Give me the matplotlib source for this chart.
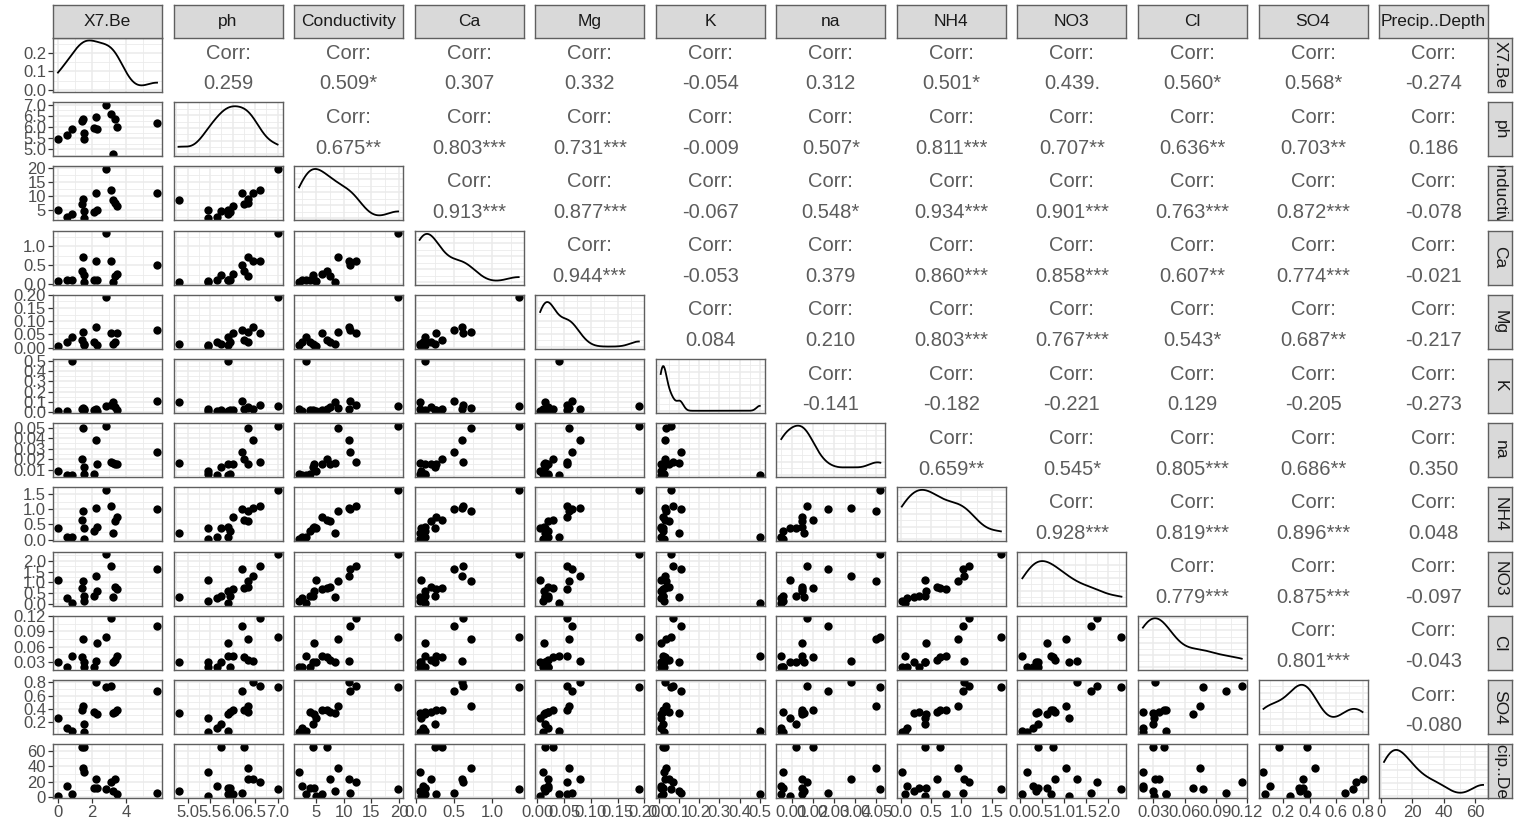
import numpy as np
import matplotlib
matplotlib.use("Agg")
import matplotlib.pyplot as plt
from matplotlib.ticker import MaxNLocator

plt.rcParams['font.family'] = ['Liberation Sans', 'DejaVu Sans']

# ---------------- data (16 samples) ----------------
var_names = ["X7.Be", "ph", "Conductivity", "Ca", "Mg", "K", "na",
             "NH4", "NO3", "Cl", "SO4", "Precip..Depth"]

x7_be = [0.0, 0.55, 0.85, 1.4, 1.45, 1.5, 1.55, 2.1, 2.25, 2.3, 2.8, 3.1, 3.25, 3.35, 3.45, 5.8]
ph = [5.45, 5.65, 5.9, 6.25, 6.35, 5.75, 5.45, 5.95, 6.45, 5.9, 7.0, 6.6, 4.8, 6.35, 6.0, 6.2]
conductivity = [5.0, 2.5, 3.3, 7.0, 9.0, 4.5, 2.0, 4.0, 11.0, 4.7, 19.8, 12.3, 8.5, 7.5, 6.2, 11.2]
ca = [0.07, 0.10, 0.12, 0.35, 0.72, 0.25, 0.05, 0.12, 0.60, 0.12, 1.35, 0.62, 0.05, 0.20, 0.27, 0.50]
mg = [0.005, 0.02, 0.04, 0.03, 0.06, 0.015, 0.01, 0.02, 0.08, 0.012, 0.19, 0.055, 0.015, 0.02, 0.055, 0.065]
k = [0.01, 0.01, 0.50, 0.03, 0.035, 0.02, 0.025, 0.02, 0.03, 0.01, 0.06, 0.07, 0.10, 0.05, 0.02, 0.11]
na = [0.009, 0.005, 0.005, 0.020, 0.050, 0.012, 0.006, 0.006, 0.038, 0.015, 0.052, 0.017, 0.016, 0.015, 0.015, 0.027]
nh4 = [0.40, 0.10, 0.08, 0.65, 0.95, 0.40, 0.02, 0.30, 1.05, 0.42, 1.65, 1.12, 0.22, 0.60, 0.75, 1.03]
no3 = [1.10, 0.30, 0.05, 0.75, 1.05, 0.40, 0.15, 0.40, 1.30, 0.60, 2.30, 1.75, 0.35, 0.80, 0.70, 1.60]
cl = [0.031, 0.020, 0.042, 0.040, 0.075, 0.030, 0.020, 0.020, 0.032, 0.068, 0.078, 0.115, 0.030, 0.035, 0.042, 0.100]
so4 = [0.25, 0.10, 0.06, 0.38, 0.44, 0.17, 0.05, 0.35, 0.80, 0.32, 0.73, 0.75, 0.33, 0.35, 0.38, 0.67]
precip_depth = [2, 14, 4, 65, 38, 65, 33, 12, 24, 12, 11, 19, 8, 23, 4, 5]

series = [x7_be, ph, conductivity, ca, mg, k, na, nh4, no3, cl, so4, precip_depth]

tick_values = [
    [0, 2, 4],
    [5.0, 5.5, 6.0, 6.5, 7.0],
    [5, 10, 15, 20],
    [0.0, 0.5, 1.0],
    [0.00, 0.05, 0.10, 0.15, 0.20],
    [0.0, 0.1, 0.2, 0.3, 0.4, 0.5],
    [0.01, 0.02, 0.03, 0.04, 0.05],
    [0.0, 0.5, 1.0, 1.5],
    [0.0, 0.5, 1.0, 1.5, 2.0],
    [0.03, 0.06, 0.09, 0.12],
    [0.2, 0.4, 0.6, 0.8],
    [0, 20, 40, 60],
]
tick_labels = [
    ["0", "2", "4"],
    ["5.0", "5.5", "6.0", "6.5", "7.0"],
    ["5", "10", "15", "20"],
    ["0.0", "0.5", "1.0"],
    ["0.00", "0.05", "0.10", "0.15", "0.20"],
    ["0.0", "0.1", "0.2", "0.3", "0.4", "0.5"],
    ["0.01", "0.02", "0.03", "0.04", "0.05"],
    ["0.0", "0.5", "1.0", "1.5"],
    ["0.0", "0.5", "1.0", "1.5", "2.0"],
    ["0.03", "0.06", "0.09", "0.12"],
    ["0.2", "0.4", "0.6", "0.8"],
    ["0", "20", "40", "60"],
]
density_ticks_row0 = [0.0, 0.1, 0.2]
density_labels_row0 = ["0.0", "0.1", "0.2"]

corr_text = [
    ["0.259", "0.509*", "0.307", "0.332", "-0.054", "0.312", "0.501*", "0.439.", "0.560*", "0.568*", "-0.274"],
    ["0.675**", "0.803***", "0.731***", "-0.009", "0.507*", "0.811***", "0.707**", "0.636**", "0.703**", "0.186"],
    ["0.913***", "0.877***", "-0.067", "0.548*", "0.934***", "0.901***", "0.763***", "0.872***", "-0.078"],
    ["0.944***", "-0.053", "0.379", "0.860***", "0.858***", "0.607**", "0.774***", "-0.021"],
    ["0.084", "0.210", "0.803***", "0.767***", "0.543*", "0.687**", "-0.217"],
    ["-0.141", "-0.182", "-0.221", "0.129", "-0.205", "-0.273"],
    ["0.659**", "0.545*", "0.805***", "0.686**", "0.350"],
    ["0.928***", "0.819***", "0.896***", "0.048"],
    ["0.779***", "0.875***", "-0.097"],
    ["0.801***", "-0.043"],
    ["-0.080"],
]

# ---------------- layout ----------------
W, H = 1519, 823
fig = plt.figure(figsize=(W / 100, H / 100), dpi=100)
fig.patch.set_facecolor("white")

n = len(var_names)
left0, col_pitch, pw = 53, 120.55, 109
top0, row_pitch, ph_ = 38, 64.2, 54
strip_h = 33
rstrip_w = 24

BORDER = "#5f5f5f"
GRID = "#ebebeb"
TICKC = "#4d4d4d"
CORRC = "#5c5c5c"


def rect(l, t, w, h):
    return [l / W, 1 - (t + h) / H, w / W, h / H]


def lims(v):
    v = np.asarray(v, float)
    lo, hi = v.min(), v.max()
    d = hi - lo
    return lo - 0.05 * d, hi + 0.05 * d


def minor_of(major, lo, hi):
    major = np.asarray(major, float)
    step = major[1] - major[0]
    cand = np.concatenate([major - step / 2, [major[-1] + step / 2]])
    return [c for c in cand if lo <= c <= hi]


def kde(v, grid):
    v = np.asarray(v, float)
    nobs = len(v)
    sd = v.std(ddof=1)
    q75, q25 = np.percentile(v, [75, 25])
    bw = 0.9 * min(sd, (q75 - q25) / 1.34) * nobs ** (-0.2)
    z = (grid[:, None] - v[None, :]) / bw
    return np.exp(-0.5 * z ** 2).sum(1) / (nobs * bw * np.sqrt(2 * np.pi))


def style_panel(ax, xt, yt, xlim, ylim):
    ax.set_xlim(*xlim)
    ax.set_ylim(*ylim)
    for x in minor_of(xt, *xlim):
        ax.axvline(x, color=GRID, lw=0.6, zorder=0)
    for y in minor_of(yt, *ylim):
        ax.axhline(y, color=GRID, lw=0.6, zorder=0)
    for x in xt:
        if xlim[0] <= x <= xlim[1]:
            ax.axvline(x, color=GRID, lw=1.1, zorder=0)
    for y in yt:
        if ylim[0] <= y <= ylim[1]:
            ax.axhline(y, color=GRID, lw=1.1, zorder=0)
    for s in ax.spines.values():
        s.set_color(BORDER)
        s.set_linewidth(1.0)
        s.set_zorder(5)


for i in range(n):
    for j in range(n):
        ax = fig.add_axes(rect(left0 + j * col_pitch, top0 + i * row_pitch, pw, ph_))
        ax.set_facecolor("white")
        xl = lims(series[j])
        if i < j:
            # correlation panel
            ax.axis("off")
            ax.text(0.5, 0.72, "Corr:", transform=ax.transAxes, ha="center", va="center",
                    fontsize=14.5, color=CORRC)
            ax.text(0.5, 0.15, corr_text[i][j - i - 1], transform=ax.transAxes, ha="center",
                    va="center", fontsize=14.5, color=CORRC)
            continue
        if i == j:
            v = np.asarray(series[j], float)
            g = np.linspace(v.min(), v.max(), 300)
            d = kde(v, g)
            dmax = d.max()
            yl = (-0.05 * dmax, 1.05 * dmax)
            if i == 0:
                yt = density_ticks_row0
            else:
                yt = list(MaxNLocator(nbins=4).tick_values(0, dmax))
            style_panel(ax, tick_values[j], yt, xl, yl)
            ax.plot(g, d, color="black", lw=1.3, zorder=3)
            ax.set_yticks(yt)
        else:
            yl = lims(series[i])
            style_panel(ax, tick_values[j], tick_values[i], xl, yl)
            ax.scatter(series[j], series[i], s=36, color="black", zorder=3, linewidths=0)
            ax.set_yticks(tick_values[i])
        ax.set_xticks(tick_values[j])
        ax.tick_params(length=3.5, width=0.9, color="#333333", labelsize=12,
                       labelcolor=TICKC, pad=1.5)
        if j == 0:
            if i == 0:
                ax.set_yticklabels(density_labels_row0)
            else:
                ax.set_yticklabels(tick_labels[i])
        else:
            ax.tick_params(axis="y", left=False, labelleft=False)
        if i == n - 1:
            ax.set_xticklabels(tick_labels[j])
        else:
            ax.tick_params(axis="x", bottom=False, labelbottom=False)

# top strips
for j in range(n):
    sax = fig.add_axes(rect(left0 + j * col_pitch, top0 - strip_h, pw, strip_h))
    sax.set_facecolor("#d9d9d9")
    sax.set_xticks([]); sax.set_yticks([])
    for s in sax.spines.values():
        s.set_color(BORDER); s.set_linewidth(1.0)
    t = sax.text(0.5, 0.5, var_names[j], transform=sax.transAxes, ha="center", va="center",
                 fontsize=12.5, color="#1a1a1a")
    t.set_clip_on(True)

# right strips
for i in range(n):
    sax = fig.add_axes(rect(left0 + (n - 1) * col_pitch + pw, top0 + i * row_pitch, rstrip_w, ph_))
    sax.set_facecolor("#d9d9d9")
    sax.set_xticks([]); sax.set_yticks([])
    for s in sax.spines.values():
        s.set_color(BORDER); s.set_linewidth(1.0)
    t = sax.text(0.5, 0.5, var_names[i], transform=sax.transAxes, ha="center", va="center",
                 fontsize=12.5, color="#1a1a1a", rotation=-90)
    t.set_clip_on(True)

fig.savefig("out.png", dpi=100, facecolor="white")
